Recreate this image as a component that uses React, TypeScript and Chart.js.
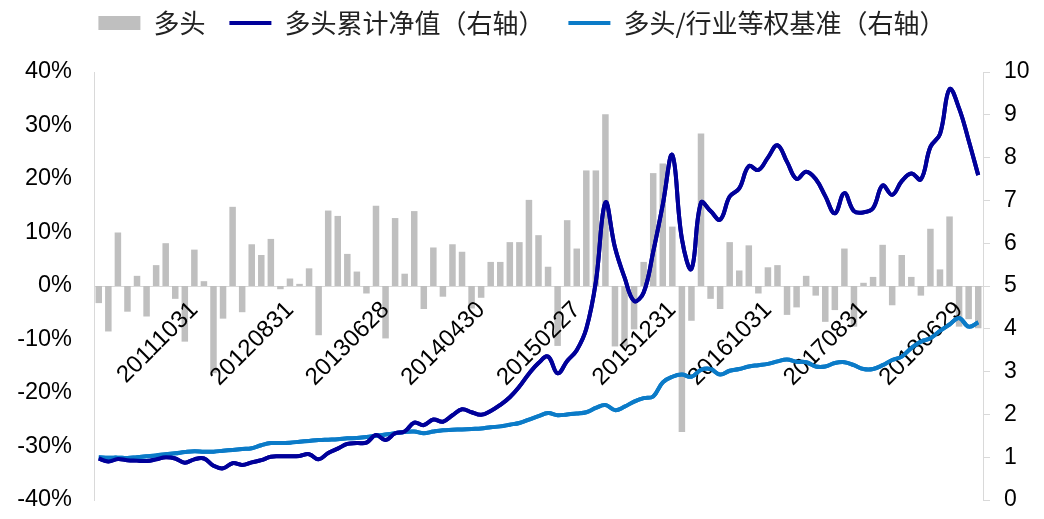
import React, { useEffect, useRef } from "react";
import { Chart, registerables } from "chart.js";

Chart.register(...registerables);

// ---- data ----
const START_YEAR = 2010;
const START_MONTH = 12;
const N_MONTHS = 93;
const CATEGORIES: string[] = Array.from({ length: N_MONTHS }, (_, i) => {
  const m = START_MONTH - 1 + i;
  const y = START_YEAR + Math.floor(m / 12);
  const mm = (m % 12) + 1;
  return `${y}${mm < 10 ? "0" + mm : mm}`;
});

const TICK_LABELS = [
  "20111031", "20120831", "20130628", "20140430", "20150227",
  "20151231", "20161031", "20170831", "20180629",
];

// monthly long-only return (%)
const LONG_RETURN = [
  -3.2, -8.5, 10.0, -4.8, 1.9, -5.7, 3.9, 8.0, -2.4, -10.4,
  6.8, 0.9, -16.3, -6.1, 14.8, -4.9, 7.8, 5.8, 8.8, -0.6,
  1.4, 0.4, 3.3, -9.2, 14.1, 13.1, 6.0, 2.7, -1.4, 15.0,
  -9.8, 12.7, 2.3, 14.0, -4.3, 7.2, -2.0, 7.8, 6.4, -4.2,
  -2.2, 4.5, 4.5, 8.2, 8.2, 16.1, 9.5, 3.6, -11.2, 12.3,
  7.0, 21.6, 21.6, 32.1, -11.3, -11.3, -8.1, 4.5, 21.1, 22.9,
  11.1, -27.3, -6.5, 28.5, -2.4, -4.3, 8.2, 2.9, 7.6, -1.4,
  3.5, 3.9, -5.4, -4.0, 1.9, -1.8, -6.7, -4.5, 7.0, -7.6,
  0.6, 1.7, 7.7, -3.6, 5.8, 1.7, -1.8, 10.7, 3.1, 13.0,
  -7.6, -6.2, -7.9,
];

// cumulative net value (right axis)
const LONG_NAV = [
  0.97, 0.90, 0.96, 0.93, 0.92, 0.91, 0.95, 1.00, 0.97, 0.87,
  0.95, 0.97, 0.80, 0.74, 0.86, 0.82, 0.88, 0.93, 1.01, 1.02,
  1.02, 1.03, 1.07, 0.95, 1.10, 1.20, 1.31, 1.33, 1.34, 1.52,
  1.40, 1.56, 1.60, 1.81, 1.75, 1.88, 1.83, 1.98, 2.12, 2.05,
  1.99, 2.08, 2.22, 2.40, 2.65, 2.95, 3.20, 3.35, 2.96, 3.25,
  3.50, 4.00, 5.10, 6.95, 5.90, 5.20, 4.65, 4.85, 5.80, 6.90,
  8.06, 6.10, 5.40, 6.95, 6.75, 6.55, 7.09, 7.28, 7.80, 7.71,
  8.00, 8.29, 7.90, 7.50, 7.67, 7.50, 7.10, 6.70, 7.17, 6.75,
  6.72, 6.82, 7.35, 7.13, 7.45, 7.63, 7.49, 8.25, 8.55, 9.60,
  9.15, 8.40, 7.59,
];

// long / industry equal-weight benchmark (right axis)
const LONG_VS_BENCH = [
  1.00, 0.99, 0.99, 0.98, 1.00, 1.02, 1.04, 1.07, 1.09, 1.12,
  1.14, 1.13, 1.13, 1.15, 1.17, 1.19, 1.21, 1.28, 1.33, 1.33,
  1.34, 1.36, 1.38, 1.40, 1.41, 1.42, 1.44, 1.45, 1.47, 1.50,
  1.53, 1.56, 1.59, 1.60, 1.56, 1.60, 1.63, 1.64, 1.65, 1.66,
  1.67, 1.70, 1.72, 1.76, 1.80, 1.88, 1.96, 2.03, 1.98, 2.00,
  2.02, 2.05, 2.15, 2.22, 2.10, 2.18, 2.30, 2.38, 2.42, 2.75,
  2.88, 2.93, 2.88, 3.04, 3.06, 2.93, 3.02, 3.06, 3.12, 3.15,
  3.18, 3.24, 3.28, 3.23, 3.22, 3.12, 3.12, 3.20, 3.22, 3.15,
  3.06, 3.06, 3.15, 3.27, 3.35, 3.55, 3.70, 3.78, 3.95, 4.10,
  4.25, 4.05, 4.15,
];

const SERIES_NAMES = ["多头", "多头累计净值（右轴）", "多头/行业等权基准（右轴）"];

// ---- layout constants ----
const W = 1044;
const H = 519;
const LEGEND_PAD_TOP = -14;
const CHART_TOP = 72;
const CHART_BOTTOM = 500;
const AXIS_FONT = "'Liberation Sans', Arial, sans-serif";
const LEGEND_FONT = "'Noto Sans CJK SC', 'Liberation Sans', sans-serif";

const legendHeightPlugin = {
  id: "legendHeight",
  beforeInit(chart: any) {
    const lg = chart.legend;
    if (!lg) return;
    const orig = lg.fit;
    lg.fit = function () {
      orig.call(this);
      this.height = CHART_TOP - LEGEND_PAD_TOP;
    };
  },
};

// lines sit above the category labels, which sit above the bars
const linesOnTopPlugin = {
  id: "linesOnTop",
  afterDraw(chart: any) {
    const { ctx, chartArea } = chart;
    ctx.save();
    ctx.beginPath();
    ctx.rect(chartArea.left, chartArea.top - 4, chartArea.right - chartArea.left, chartArea.bottom - chartArea.top + 8);
    ctx.clip();
    [2, 1].forEach((idx) => {
      const meta = chart.getDatasetMeta(idx);
      if (meta && meta.controller && !meta.hidden) meta.controller.draw();
    });
    ctx.restore();
  },
};

const noPad = (s: any) => {
  s.paddingTop = 0;
  s.paddingBottom = 0;
};

export default function App() {
  const ref = useRef<HTMLCanvasElement | null>(null);

  useEffect(() => {
    if (!ref.current) return;
    const chart = new Chart(ref.current, {
      type: "bar",
      data: {
        labels: CATEGORIES,
        datasets: [
          {
            type: "bar",
            label: SERIES_NAMES[0],
            data: LONG_RETURN,
            backgroundColor: "#BFBFBF",
            borderWidth: 0,
            barPercentage: 0.68,
            categoryPercentage: 1,
            yAxisID: "y",
            order: 5,
            pointStyle: "rect",
          } as any,
          {
            type: "line",
            label: SERIES_NAMES[1],
            data: LONG_NAV,
            borderColor: "#00009A",
            backgroundColor: "#00009A",
            borderWidth: 4,
            pointRadius: 0,
            tension: 0.4,
            yAxisID: "y1",
            order: 1,
            pointStyle: "line",
          } as any,
          {
            type: "line",
            label: SERIES_NAMES[2],
            data: LONG_VS_BENCH,
            borderColor: "#0B7BC8",
            backgroundColor: "#0B7BC8",
            borderWidth: 4,
            pointRadius: 0,
            tension: 0.4,
            yAxisID: "y1",
            order: 2,
            pointStyle: "line",
          } as any,
        ],
      },
      options: {
        responsive: false,
        maintainAspectRatio: false,
        animation: false,
        layout: { padding: { top: LEGEND_PAD_TOP, bottom: H - CHART_BOTTOM, left: 0, right: 0 } },
        plugins: {
          tooltip: { enabled: false },
          legend: {
            display: true,
            position: "top",
            labels: {
              usePointStyle: true,
              pointStyleWidth: 42,
              boxHeight: 14,
              padding: 24,
              color: "#222",
              font: { family: LEGEND_FONT, size: 26 },
              sort: (a: any, b: any) => a.datasetIndex - b.datasetIndex,
            },
          },
        },
        scales: {
          x: {
            type: "category",
            offset: true,
            position: { y: 0 } as any,
            grid: { display: false, drawTicks: true, tickLength: 8 },
            border: { display: true, color: "#D9D9D9", width: 1 },
            ticks: {
              z: 1,
              autoSkip: false,
              minRotation: 45,
              maxRotation: 45,
              padding: 2,
              color: "#000",
              font: { family: AXIS_FONT, size: 24 },
              callback: (_v: any, i: number) =>
                i > 0 && i % 10 === 0 && TICK_LABELS[i / 10 - 1] ? TICK_LABELS[i / 10 - 1] : "",
            },
            afterFit: (s: any) => {
              s.height = 0;
              s.paddingTop = 0;
              s.paddingBottom = 0;
              s.paddingLeft = 0;
              s.paddingRight = 0;
            },
          },
          y: {
            type: "linear",
            position: "left",
            min: -40,
            max: 40,
            grid: { display: false, drawTicks: false },
            border: { display: true, color: "#D9D9D9", width: 1 },
            ticks: {
              stepSize: 10,
              padding: 22,
              color: "#000",
              font: { family: AXIS_FONT, size: 23.5 },
              callback: (v: any) => `${Math.round(Number(v))}%`,
            },
            afterFit: (s: any) => {
              s.width = 94;
              noPad(s);
            },
          },
          y1: {
            type: "linear",
            position: "right",
            min: 0,
            max: 10,
            grid: {
              display: true,
              drawOnChartArea: false,
              drawTicks: true,
              tickLength: 7,
              color: "#D9D9D9",
            },
            border: { display: true, color: "#D9D9D9", width: 1 },
            ticks: {
              stepSize: 1,
              padding: 14,
              color: "#000",
              font: { family: AXIS_FONT, size: 23 },
            },
            afterFit: (s: any) => {
              s.width = W - 983;
              noPad(s);
            },
          },
        },
      } as any,
      plugins: [legendHeightPlugin, linesOnTopPlugin],
    });
    return () => chart.destroy();
  }, []);

  return (
    <div style={{ position: "absolute", left: 0, top: 0, width: W, height: H, background: "#fff" }}>
      <canvas ref={ref} width={W} height={H} style={{ display: "block", width: W, height: H }} />
    </div>
  );
}
